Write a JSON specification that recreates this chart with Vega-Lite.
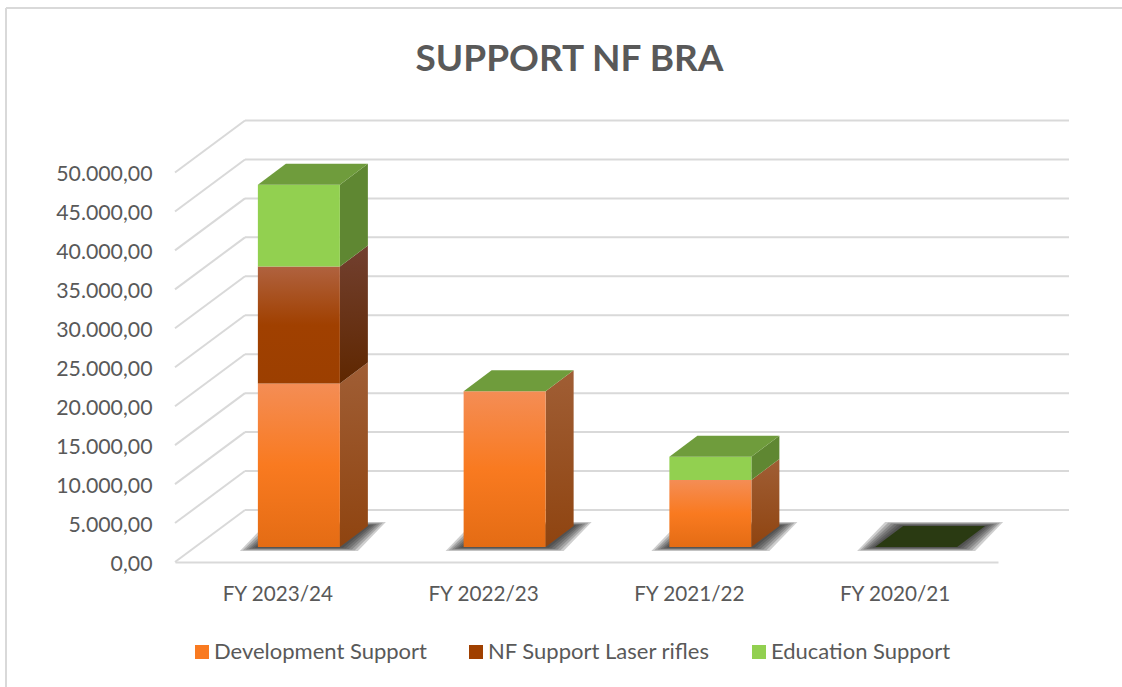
{
"$schema":"https://vega.github.io/schema/vega-lite/v6.json",
"width":823,"height":441,
"autosize":"none",
"padding":{"left":175,"top":121,"right":124,"bottom":125},
"background":"white",
"title":{"text":"SUPPORT NF BRA","font":"Lato","fontSize":37,"fontWeight":"bold","color":"#595959","anchor":"middle","frame":"group","dx":-17,"offset":-72},
"config":{"view":{"stroke":null},"font":"Lato"},
"datasets":{
"bars":[
{"category":"FY 2023/24","series":"Development Support","value":21000},
{"category":"FY 2023/24","series":"NF Support Laser rifles","value":15000},
{"category":"FY 2023/24","series":"Education Support","value":10500},
{"category":"FY 2022/23","series":"Development Support","value":20000},
{"category":"FY 2022/23","series":"NF Support Laser rifles","value":0},
{"category":"FY 2022/23","series":"Education Support","value":0},
{"category":"FY 2021/22","series":"Development Support","value":8600},
{"category":"FY 2021/22","series":"NF Support Laser rifles","value":0},
{"category":"FY 2021/22","series":"Education Support","value":3000},
{"category":"FY 2020/21","series":"Development Support","value":0},
{"category":"FY 2020/21","series":"NF Support Laser rifles","value":0},
{"category":"FY 2020/21","series":"Education Support","value":0}
],
"ticks":[{"v":0},{"v":5000},{"v":10000},{"v":15000},{"v":20000},{"v":25000},{"v":30000},{"v":35000},{"v":40000},{"v":45000},{"v":50000}]
},
"layer":[
{"data":{"name":"ticks"},"transform":[{"calculate":"datum.v+6675","as":"b"}],
 "mark":{"type":"rule","color":"#d9d9d9","strokeWidth":2},
 "encoding":{"x":{"datum":70,"scale":{"domain":[0,823]},"axis":null},"x2":{"datum":894},
 "y":{"field":"b","type":"quantitative","scale":{"domain":[0,56611],"nice":false},
  "axis":{"values":[0,5000,10000,15000,20000,25000,30000,35000,40000,45000,50000],"title":null,"grid":false,"domain":false,"ticks":false,"labelPadding":23,"labelOffset":2,"labelFontSize":21.3,"labelFont":"Lato","labelColor":"#595959","labelExpr":"replace(replace(replace(format(datum.value,',.2f'),',','#'),'.',','),'#','.')"}}}},
{"data":{"name":"ticks"},"transform":[{"calculate":"datum.v+6675","as":"b"}],
 "mark":{"type":"rule","color":"#d9d9d9","strokeWidth":2},
 "encoding":{"x":{"datum":0,"scale":{"domain":[0,823]},"axis":null},"x2":{"datum":70},
 "y":{"field":"v","type":"quantitative"},"y2":{"field":"b"}}},
{"data":{"name":"ticks"},"transform":[{"filter":"datum.v==0"},{"calculate":"71117","as":"top"}],
 "mark":{"type":"rule","color":"#d9d9d9","strokeWidth":2},
 "encoding":{"x":{"datum":-169,"scale":{"domain":[0,823]},"axis":null},"x2":{"datum":947},
 "y":{"field":"top","type":"quantitative"}}},
{"data":{"name":"ticks"},"transform":[{"filter":"datum.v==0"},{"calculate":"71117","as":"top"},{"calculate":"-16100","as":"bot"}],
 "mark":{"type":"rule","color":"#d9d9d9","strokeWidth":2},
 "encoding":{"x":{"datum":-169,"scale":{"domain":[0,823]},"axis":null},
 "y":{"field":"top","type":"quantitative"},"y2":{"field":"bot"}}},
{"data":{"name":"bars"},
 "transform":[{"filter":"datum.series=='Development Support'"},
  {"calculate":"indexof(['FY 2023/24','FY 2022/23','FY 2021/22','FY 2020/21'],datum.category)","as":"i"},
  {"calculate":"102.875+205.75*datum.i-20","as":"xl"},{"calculate":"0","as":"a"},{"calculate":"1","as":"b"},
  {"fold":["a","b"],"as":["k","t"]},
  {"calculate":"[18,15,12,9,6,3]","as":"lv"},{"flatten":["lv"]},
  {"calculate":"datum.xl-datum.lv+datum.t*28","as":"x1"},{"calculate":"datum.xl+82+datum.lv+datum.t*28","as":"x2"},
  {"calculate":"1925+datum.t*2696+(2*datum.t-1)*datum.lv*28","as":"yy"}],
 "mark":{"type":"area","orient":"horizontal","fill":"#222222","fillOpacity":0.22},
 "encoding":{"x":{"field":"x1","type":"quantitative","scale":{"domain":[0,823]},"axis":null},"x2":{"field":"x2"},
  "y":{"field":"yy","type":"quantitative"},"detail":[{"field":"category"},{"field":"lv"}]}},
{"data":{"name":"bars"},
 "transform":[{"calculate":"indexof(['Development Support','NF Support Laser rifles','Education Support'],datum.series)","as":"o"},
  {"stack":"value","groupby":["category"],"sort":[{"field":"o","order":"ascending"}],"as":["v0","v1"]},
  {"filter":"datum.value>0"},
  {"calculate":"indexof(['FY 2023/24','FY 2022/23','FY 2021/22','FY 2020/21'],datum.category)","as":"i"},
  {"calculate":"0","as":"a"},{"calculate":"1","as":"b"},
  {"fold":["a","b"],"as":["k","t"]},
  {"calculate":"102.875+205.75*datum.i+62+datum.t*28","as":"sx"},
  {"calculate":"datum.v0+1925+datum.t*2696","as":"lo"},{"calculate":"datum.v1+1925+datum.t*2696","as":"hi"}],
 "mark":{"type":"area"},
 "encoding":{"x":{"field":"sx","type":"quantitative","scale":{"domain":[0,823]},"axis":null},
  "y":{"field":"hi","type":"quantitative"},"y2":{"field":"lo"},
  "detail":[{"field":"category"},{"field":"series"}],
  "color":{"condition":[
   {"test":"datum.series=='Development Support'","value":{"gradient":"linear","x1":0,"y1":0,"x2":0,"y2":1,"stops":[{"offset":0,"color":"#a05e35"},{"offset":1,"color":"#8f4410"}]}},
   {"test":"datum.series=='NF Support Laser rifles'","value":{"gradient":"linear","x1":0,"y1":0,"x2":0,"y2":1,"stops":[{"offset":0,"color":"#724030"},{"offset":1,"color":"#5f2700"}]}}],
   "value":"#5f8732"}}},
{"data":{"name":"bars"},
 "transform":[{"calculate":"indexof(['Development Support','NF Support Laser rifles','Education Support'],datum.series)","as":"o"}],
 "mark":{"type":"bar","width":82,"xOffset":21,"yOffset":-15},
 "encoding":{"x":{"field":"category","type":"nominal","sort":["FY 2023/24","FY 2022/23","FY 2021/22","FY 2020/21"],"scale":{"paddingInner":0,"paddingOuter":0},
   "axis":{"title":null,"labelAngle":0,"domainColor":"#d9d9d9","domainWidth":2,"ticks":false,"labelPadding":22,"labelFontSize":20.7,"labelFont":"Lato","labelColor":"#595959"}},
  "y":{"field":"value","type":"quantitative","stack":"zero"},
  "order":{"field":"o","type":"quantitative"},
  "color":{"field":"series","type":"nominal","condition":[
   {"test":"datum.series=='Development Support'","value":{"gradient":"linear","x1":0,"y1":0,"x2":0,"y2":1,"stops":[{"offset":0,"color":"#f48d55"},{"offset":0.5,"color":"#f97a20"},{"offset":1,"color":"#e46c14"}]}},
   {"test":"datum.series=='NF Support Laser rifles'","value":{"gradient":"linear","x1":0,"y1":0,"x2":0,"y2":1,"stops":[{"offset":0,"color":"#b0623f"},{"offset":0.5,"color":"#a04000"},{"offset":1,"color":"#9c3f00"}]}}],
   "scale":{"domain":["Development Support","NF Support Laser rifles","Education Support"],"range":["#f97a20","#a04000","#92d050"]},
   "legend":{"title":null,"orient":"none","legendX":16,"legendY":520,"direction":"horizontal","columns":3,"symbolType":"square","symbolSize":196,"symbolStrokeWidth":0,"labelFontSize":22,"labelOffset":1,"labelFont":"Lato","labelColor":"#595959","columnPadding":38,"labelLimit":300}}}},
{"data":{"name":"bars"},
 "transform":[{"joinaggregate":[{"op":"sum","field":"value","as":"total"}],"groupby":["category"]},
  {"filter":"datum.series=='Development Support'"},
  {"calculate":"indexof(['FY 2023/24','FY 2022/23','FY 2021/22','FY 2020/21'],datum.category)","as":"i"},
  {"calculate":"102.875+205.75*datum.i-20","as":"xl"},{"calculate":"0","as":"a"},{"calculate":"1","as":"b"},
  {"fold":["a","b"],"as":["k","t"]},
  {"calculate":"datum.xl+datum.t*28","as":"x1"},{"calculate":"datum.xl+82+datum.t*28","as":"x2"},
  {"calculate":"datum.total+1925+datum.t*2696","as":"yy"},
  {"calculate":"datum.total>0?'on':'off'","as":"state"}],
 "mark":{"type":"area","orient":"horizontal"},
 "encoding":{"x":{"field":"x1","type":"quantitative","scale":{"domain":[0,823]},"axis":null},"x2":{"field":"x2"},
  "y":{"field":"yy","type":"quantitative"},"detail":{"field":"category"},
  "color":{"field":"state","type":"nominal","legend":null,"scale":{"domain":["on","off"],"range":["#6f9c3c","#2a3a12"]}}}}
],
"resolve":{"scale":{"x":"independent","color":"independent"},"axis":{"x":"independent"}}
}
